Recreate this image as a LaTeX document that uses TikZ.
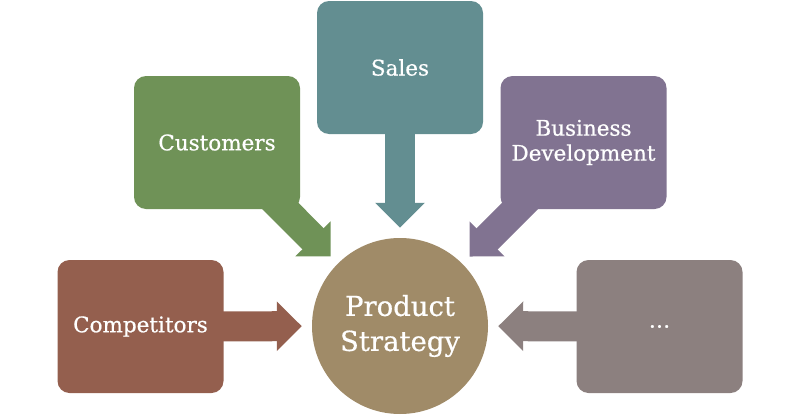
\documentclass[tikz,border=0pt]{standalone}
\usepackage{fontspec}
\setmainfont{DejaVu Serif}[FakeBold=0.6]
\usetikzlibrary{arrows.meta,backgrounds}
\definecolor{cgreen}{HTML}{6F9257}
\definecolor{cteal}{HTML}{638E91}
\definecolor{cpurple}{HTML}{817391}
\definecolor{cbrown}{HTML}{945F4E}
\definecolor{cgray}{HTML}{8C807F}
\definecolor{ctan}{HTML}{A08B68}
\tikzset{
  box/.style={rectangle, rounded corners=12pt, minimum width=166pt, minimum height=133pt,
    inner sep=0pt, text=white, align=center, font=\fontsize{21.5}{25}\selectfont},
  hub/.style={circle, minimum size=176pt, inner sep=0pt, fill=ctan, text=white,
    align=center, font=\fontsize{27.5}{35}\selectfont},
  fatarrow/.style={line width=30pt, shorten >=10pt,
    -{Triangle[length=25pt 0 0, width=48pt 0 0]}}
}
\begin{document}
\begin{tikzpicture}[x=1pt,y=-1pt]
\useasboundingbox (0,0) rectangle (800,415);
\node[hub] (prod) at (400,326) {Product\\Strategy};
\node[box, fill=cgreen] (cust) at (217,142.5) {Customers};
\node[box, fill=cteal] (sales) at (400,67.5) {Sales};
\node[box, fill=cpurple] (bd) at (583.5,142.5) {Business\\Development};
\node[box, fill=cbrown] (comp) at (140.5,326.5) {Competitors};
\node[box, fill=cgray] (more) at (659.5,326.5) {…};
\begin{scope}[on background layer]
\draw[fatarrow, cgreen] (cust.center) -- (prod);
\draw[fatarrow, cteal] (sales.center) -- (prod);
\draw[fatarrow, cpurple] (bd.center) -- (prod);
\draw[fatarrow, cbrown] (comp.center) -- (prod);
\draw[fatarrow, cgray] (more.center) -- (prod);
\end{scope}
\end{tikzpicture}
\end{document}
